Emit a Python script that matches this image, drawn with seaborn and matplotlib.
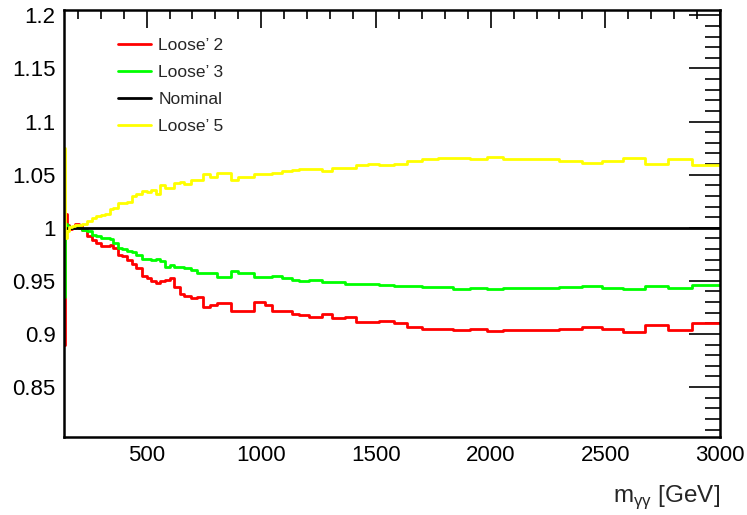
"""Ratio of m_gg spectra for loosened photon selections vs nominal."""

import matplotlib

matplotlib.use("Agg")
import matplotlib.pyplot as plt
import numpy as np
import pandas as pd
import seaborn as sns
from matplotlib.ticker import FormatStrFormatter, MultipleLocator

# bin edges in GeV (variable binning)
edges = [140, 146, 152, 160, 175, 190, 205, 220, 240, 260, 280, 300, 320, 340, 355,
         375, 395, 415, 435, 455, 480, 500, 520, 540, 560, 580, 600, 620, 645, 665,
         695, 720, 745, 775, 805, 870, 900, 970, 1015, 1045, 1090, 1135, 1165, 1210,
         1265, 1310, 1365, 1415, 1465, 1515, 1580, 1635, 1700, 1770, 1835, 1910, 1985,
         2055, 2130, 2210, 2300, 2400, 2485, 2575, 2675, 2775, 2880, 3000]

loose5 = [1.075, 0.990, 0.997, 1.001, 1.002, 1.003, 1.003, 1.004, 1.006, 1.009,
          1.011, 1.012, 1.013, 1.018, 1.019, 1.023, 1.023, 1.024, 1.030, 1.032,
          1.035, 1.034, 1.036, 1.032, 1.040, 1.037, 1.037, 1.042, 1.043, 1.041,
          1.045, 1.045, 1.051, 1.048, 1.052, 1.045, 1.048, 1.051, 1.051, 1.052,
          1.053, 1.054, 1.055, 1.055, 1.053, 1.056, 1.056, 1.059, 1.060, 1.059,
          1.060, 1.063, 1.065, 1.066, 1.066, 1.065, 1.067, 1.065, 1.065, 1.065,
          1.063, 1.061, 1.063, 1.066, 1.060, 1.065, 1.059]

loose3 = [0.935, 1.004, 1.002, 1.001, 1.000, 1.001, 1.000, 0.998, 0.997, 0.993,
          0.992, 0.990, 0.990, 0.989, 0.986, 0.981, 0.980, 0.978, 0.977, 0.974,
          0.971, 0.971, 0.970, 0.971, 0.969, 0.963, 0.965, 0.963, 0.963, 0.962,
          0.960, 0.957, 0.957, 0.957, 0.954, 0.959, 0.957, 0.954, 0.954, 0.955,
          0.953, 0.951, 0.950, 0.951, 0.949, 0.949, 0.947, 0.947, 0.947, 0.946,
          0.945, 0.945, 0.944, 0.944, 0.942, 0.943, 0.942, 0.943, 0.943, 0.943,
          0.944, 0.945, 0.943, 0.942, 0.945, 0.943, 0.946]

loose2 = [0.890, 1.013, 1.003, 0.999, 1.000, 1.004, 1.003, 0.998, 0.992, 0.988,
          0.986, 0.983, 0.983, 0.984, 0.981, 0.974, 0.973, 0.970, 0.966, 0.962,
          0.955, 0.953, 0.950, 0.948, 0.950, 0.951, 0.953, 0.944, 0.938, 0.936,
          0.934, 0.935, 0.925, 0.927, 0.929, 0.922, 0.922, 0.930, 0.927, 0.922,
          0.922, 0.919, 0.918, 0.916, 0.919, 0.915, 0.916, 0.911, 0.911, 0.912,
          0.910, 0.907, 0.905, 0.905, 0.904, 0.905, 0.903, 0.904, 0.904, 0.904,
          0.905, 0.907, 0.905, 0.902, 0.908, 0.904, 0.910]

nominal = [1.0] * len(loose2)

labels = ["Loose\u2019 2", "Loose\u2019 3", "Nominal", "Loose\u2019 5"]
colors = ["#ff0000", "#00ff00", "#000000", "#ffff00"]

frames = []
for name, vals in zip(labels, [loose2, loose3, nominal, loose5]):
    # steps-post needs the last value repeated at the upper edge
    frames.append(pd.DataFrame({"mass": edges, "ratio": list(vals) + [vals[-1]], "sel": name}))
df = pd.concat(frames, ignore_index=True)

sns.set_theme(style="white")
plt.rcParams["font.family"] = ["Liberation Sans", "DejaVu Sans"]
plt.rcParams["mathtext.fontset"] = "custom"
plt.rcParams["mathtext.rm"] = "Liberation Sans"

fig = plt.figure(figsize=(7.47, 5.15), dpi=100)
ax = fig.add_axes([64 / 747, 78 / 515, 656 / 747, 427 / 515])

sns.lineplot(data=df, x="mass", y="ratio", hue="sel", hue_order=labels,
             palette=colors, drawstyle="steps-post", estimator=None,
             linewidth=2, ax=ax)
for line in ax.lines:
    if line.get_label() == "Nominal":
        line.set_linewidth(2.4)

ax.set_xlim(140, 3000)
ax.set_ylim(0.803, 1.205)
ax.xaxis.set_major_locator(MultipleLocator(500))
ax.xaxis.set_minor_locator(MultipleLocator(100))
ax.yaxis.set_major_locator(MultipleLocator(0.05))
ax.yaxis.set_minor_locator(MultipleLocator(0.01))
ax.yaxis.set_major_formatter(FormatStrFormatter("%g"))

ax.tick_params(axis="both", which="both", direction="in", top=True, right=True,
               labelsize=16, colors="black", width=1.2, pad=6)
ax.tick_params(axis="y", which="major", length=22)
ax.tick_params(axis="y", which="minor", length=11)
ax.tick_params(axis="x", which="major", length=13)
ax.tick_params(axis="x", which="minor", length=6.5)
for spine in ax.spines.values():
    spine.set_linewidth(1.8)
    spine.set_color("black")

ax.set_ylabel("")
ax.set_xlabel("m$_{\\mathregular{\u03b3\u03b3}}$ [GeV]", fontsize=17.5, loc="right", labelpad=12)

handles, leg_labels = ax.get_legend_handles_labels()
leg = ax.legend(handles, leg_labels, loc="upper left", bbox_to_anchor=(0.058, 0.972),
                frameon=False, fontsize=12.5, handlelength=1.9, handletextpad=0.45,
                labelspacing=0.68)
for h in leg.get_lines():
    h.set_linewidth(2)

fig.savefig("out.png", dpi=100)
plt.close(fig)
